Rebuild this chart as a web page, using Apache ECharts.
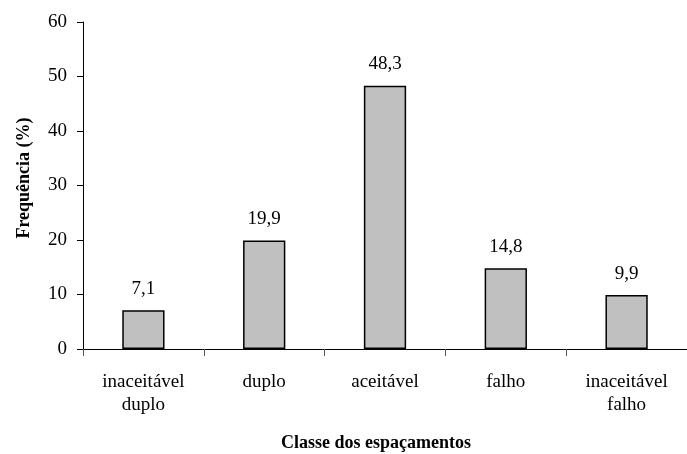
<!DOCTYPE html>
<html lang="pt">
<head>
    <meta charset="UTF-8">
    <title>Classe dos espaçamentos</title>
    <script src="https://cdn.jsdelivr.net/npm/echarts@6/dist/echarts.min.js"></script>
</head>
<body style="margin:0">
<div id="container" style="width:687px;height:454px;"></div>
<script>
    var categories = ['inaceitável\nduplo', 'duplo', 'aceitável', 'falho', 'inaceitável\nfalho'];
    var values = [7.1, 19.9, 48.3, 14.8, 9.9];
    var yTicks = [0, 10, 20, 30, 40, 50, 60];

    var font = '"Liberation Serif", "Times New Roman", serif';
    var myChart = echarts.init(document.getElementById('container'));

    myChart.setOption({
        backgroundColor: '#fff',
        animation: false,
        grid: {
            left: 83,
            right: -8,
            top: 22,
            bottom: 105
        },
        // axis titles placed as text so they sit where the original has them
        graphic: [
            {
                type: 'text',
                left: 381 - 100,
                top: 434,
                style: {
                    text: 'Classe dos espaçamentos',
                    width: 200,
                    align: 'center',
                    fontFamily: font,
                    fontWeight: 'bold',
                    fontSize: 18,
                    fill: '#000'
                }
            },
            {
                type: 'text',
                x: 24,
                y: 178,
                rotation: Math.PI / 2,
                style: {
                    text: 'Frequência (%)',
                    x: 0,
                    y: 0,
                    align: 'center',
                    verticalAlign: 'middle',
                    fontFamily: font,
                    fontWeight: 'bold',
                    fontSize: 18,
                    fill: '#000'
                }
            }
        ],
        xAxis: {
            type: 'category',
            data: categories,
            axisLine: {lineStyle: {color: '#000', width: 1}},
            axisTick: {show: true, length: 7, alignWithLabel: false, lineStyle: {color: '#555'}},
            axisLabel: {
                fontFamily: font,
                fontSize: 19,
                color: '#000',
                margin: 22,
                lineHeight: 23,
                interval: 0
            }
        },
        yAxis: {
            type: 'value',
            min: yTicks[0],
            max: yTicks[yTicks.length - 1],
            interval: 10,
            axisLine: {show: true, lineStyle: {color: '#000', width: 1}},
            axisTick: {show: true, length: 6, lineStyle: {color: '#000'}},
            splitLine: {show: false},
            axisLabel: {
                fontFamily: font,
                fontSize: 19,
                color: '#000',
                margin: 16
            }
        },
        series: [{
            type: 'bar',
            data: values,
            barWidth: '35%',
            itemStyle: {
                color: '#c0c0c0',
                borderColor: '#000',
                borderWidth: 1.5
            },
            label: {
                show: true,
                position: 'top',
                distance: 12,
                fontFamily: font,
                fontSize: 19,
                color: '#000',
                formatter: function (p) {
                    return String(p.value).replace('.', ',');
                }
            }
        }]
    });
</script>
</body>
</html>
